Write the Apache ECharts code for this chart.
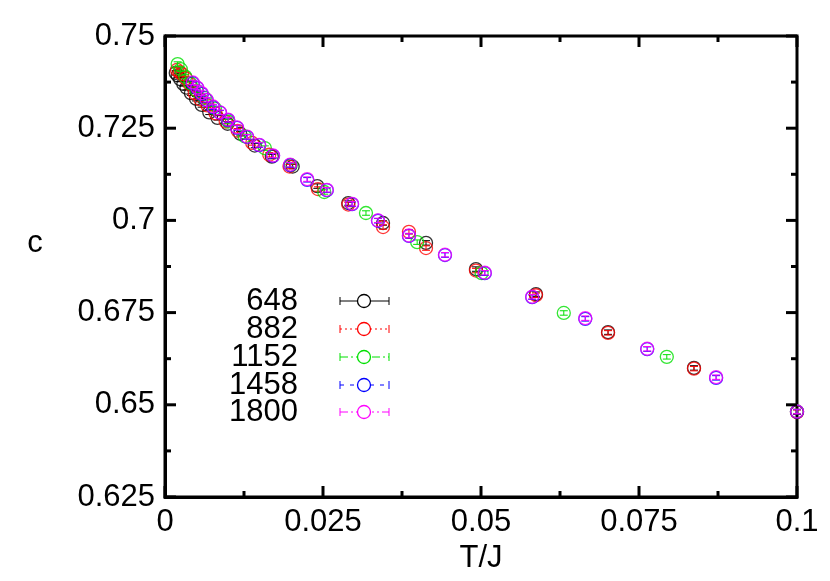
<!DOCTYPE html>
<html>
<head>
<meta charset="utf-8">
<script src="https://cdn.jsdelivr.net/npm/echarts@6/dist/echarts.min.js"></script>
<style>
html,body{margin:0;padding:0;background:#fff;}
#chart{width:830px;height:581px;}
</style>
</head>
<body>
<div id="chart"></div>
<script>
/* data */
var sizeNames = ['648', '882', '1152', '1458', '1800'];
var sizeColors = ['#000000', '#ff0000', '#00e000', '#0000ff', '#ff00ff'];
var sizeDash = [null, [2, 3], [8, 3, 2, 3], [4, 6], [8, 3, 2, 3, 2, 3]];

var t648 = [0.0017,0.0020,0.0024,0.0029,0.0034,0.0041,0.0049,0.0058,0.0070,0.0083,0.0099,0.0119,0.0142,0.0169,0.0202,0.0241,0.0290,0.0345,0.0413,0.0492,0.0587,0.0701,0.0837,0.1];
var c648 = [0.7400,0.7393,0.7383,0.7370,0.7360,0.7345,0.7330,0.7313,0.7293,0.7278,0.7262,0.7235,0.7203,0.7173,0.7146,0.7093,0.7047,0.6993,0.6939,0.6868,0.6800,0.6697,0.6600,0.6481];

var t882 = [0.0019,0.0023,0.0027,0.0033,0.0039,0.0047,0.0056,0.0067,0.0080,0.0096,0.0115,0.0138,0.0165,0.0197,0.0242,0.0290,0.0345,0.0386,0.0413,0.0492,0.0587,0.0701,0.0837,0.1];
var c882 = [0.7408,0.7402,0.7397,0.7385,0.7370,0.7345,0.7328,0.7312,0.7290,0.7268,0.7243,0.7210,0.7178,0.7146,0.7085,0.7043,0.6982,0.6969,0.6925,0.6864,0.6797,0.6695,0.6598,0.6480];

var t1152 = [0.0020,0.0025,0.0032,0.0040,0.0050,0.0063,0.0079,0.0100,0.0126,0.0158,0.0199,0.0252,0.0318,0.0399,0.0501,0.0631,0.0794,0.1];
var c1152 = [0.7424,0.7410,0.7390,0.7372,0.7352,0.7332,0.7303,0.7268,0.7228,0.7196,0.7150,0.7077,0.7020,0.6941,0.6857,0.6749,0.6630,0.6482];

var t1458 = [0.0044,0.0051,0.0058,0.0066,0.0076,0.0087,0.0100,0.0114,0.0130,0.0149,0.0171,0.0198,0.0225,0.0256,0.0296,0.0337,0.0386,0.0443,0.0506,0.0581,0.0665,0.0763,0.0872,0.1];
var c1458 = [0.7372,0.7359,0.7343,0.7326,0.7307,0.7292,0.7272,0.7251,0.7226,0.7204,0.7175,0.7150,0.7110,0.7082,0.7044,0.6999,0.6958,0.6906,0.6857,0.6792,0.6733,0.6651,0.6573,0.6481];

var t1800 = [0.0044,0.0051,0.0058,0.0066,0.0076,0.0087,0.0100,0.0114,0.0130,0.0149,0.0171,0.0198,0.0225,0.0256,0.0296,0.0337,0.0386,0.0443,0.0506,0.0581,0.0665,0.0763,0.0872,0.1];
var c1800 = [0.7374,0.7360,0.7345,0.7327,0.7309,0.7293,0.7273,0.7252,0.7227,0.7205,0.7176,0.7151,0.7112,0.7083,0.7045,0.7000,0.6959,0.6907,0.6858,0.6793,0.6735,0.6652,0.6575,0.6482];

// error bar half-height per size
var errC = [0.0006, 0.0006, 0.0006, 0.0006, 0.0006];

var xTicks = ['0', '0.025', '0.05', '0.075', '0.1'];
var yTicks = ['0.625', '0.65', '0.675', '0.7', '0.725', '0.75'];
var xMinor = [0.0125, 0.0375, 0.0625, 0.0875];
var yMinor = [0.6375, 0.6625, 0.6875, 0.7125, 0.7375];

var allT = [t648, t882, t1152, t1458, t1800];
var allC = [c648, c882, c1152, c1458, c1800];

var FONT = 'Liberation Sans';
var FS = 31;
var X_MIN = 0, X_MAX = 0.1, Y_MIN = 0.625, Y_MAX = 0.75;

function tickLabel(list, v){
    for(var i = 0; i < list.length; i++){
        if(Math.abs(parseFloat(list[i]) - v) < 1e-6) return list[i];
    }
    return '';
}

var series = [];
for(var k = 0; k < sizeNames.length; k++){
    var pts = [];
    for(var j = 0; j < allT[k].length; j++){
        pts.push([allT[k][j], allC[k][j], errC[k]]);
    }
    // error bars
    (function(col){
        series.push({
            type: 'custom',
            name: sizeNames[k] + '_err',
            data: pts,
            z: 2 + k,
            silent: true,
            renderItem: function(params, api){
                var x = api.value(0), y = api.value(1), e = api.value(2);
                var lo = api.coord([x, y - e]);
                var hi = api.coord([x, y + e]);
                var s = {stroke: col, lineWidth: 1};
                return {
                    type: 'group',
                    children: [
                        {type: 'line', shape: {x1: lo[0], y1: lo[1], x2: hi[0], y2: hi[1]}, style: s},
                        {type: 'line', shape: {x1: lo[0] - 4, y1: lo[1], x2: lo[0] + 4, y2: lo[1]}, style: s},
                        {type: 'line', shape: {x1: hi[0] - 4, y1: hi[1], x2: hi[0] + 4, y2: hi[1]}, style: s}
                    ]
                };
            }
        });
    })(sizeColors[k]);
    series.push({
        type: 'scatter',
        name: sizeNames[k],
        data: pts,
        symbol: 'circle',
        symbolSize: 13,
        z: 2 + k,
        itemStyle: {color: 'rgba(0,0,0,0)', borderColor: sizeColors[k], borderWidth: 1.3},
        emphasis: {disabled: true}
    });
}

// inward ticks on all four sides, placed through the axes' scales
var tickStyle = {stroke: '#000', lineWidth: 3};
var xTickData = [], yTickData = [];
xTicks.forEach(function(v){ xTickData.push([parseFloat(v), 11]); });
xMinor.forEach(function(v){ xTickData.push([v, 6]); });
yTicks.forEach(function(v){ yTickData.push([parseFloat(v), 11]); });
yMinor.forEach(function(v){ yTickData.push([v, 6]); });

series.push({
    type: 'custom', name: 'xticks', silent: true, z: 10,
    data: xTickData,
    encode: {x: 0},
    renderItem: function(params, api){
        var v = api.value(0), len = api.value(1);
        var b = api.coord([v, Y_MIN]), t = api.coord([v, Y_MAX]);
        return {type: 'group', children: [
            {type: 'line', shape: {x1: b[0], y1: b[1], x2: b[0], y2: b[1] - len}, style: tickStyle},
            {type: 'line', shape: {x1: t[0], y1: t[1], x2: t[0], y2: t[1] + len}, style: tickStyle}
        ]};
    }
});
series.push({
    type: 'custom', name: 'yticks', silent: true, z: 10,
    data: yTickData,
    encode: {y: 0},
    renderItem: function(params, api){
        var v = api.value(0), len = api.value(1);
        var l = api.coord([X_MIN, v]), r = api.coord([X_MAX, v]);
        return {type: 'group', children: [
            {type: 'line', shape: {x1: l[0], y1: l[1], x2: l[0] + len, y2: l[1]}, style: tickStyle},
            {type: 'line', shape: {x1: r[0], y1: r[1], x2: r[0] - len, y2: r[1]}, style: tickStyle}
        ]};
    }
});

// legend drawn as graphic: label right aligned, sample error bar with circle
var graphics = [];
var legY = [301, 329, 357, 385, 412];
for(var g = 0; g < sizeNames.length; g++){
    var col = sizeColors[g], yy = legY[g];
    var ls = {stroke: col, lineWidth: 1};
    graphics.push({type: 'text', x: 298, y: yy, style: {text: sizeNames[g], font: FS + 'px "' + FONT + '"', fill: '#000', textAlign: 'right', textVerticalAlign: 'middle'}});
    graphics.push({type: 'line', shape: {x1: 340, y1: yy, x2: 389, y2: yy}, style: {stroke: col, lineWidth: 1, lineDash: sizeDash[g]}});
    graphics.push({type: 'line', shape: {x1: 340, y1: yy - 4, x2: 340, y2: yy + 4}, style: ls});
    graphics.push({type: 'line', shape: {x1: 389, y1: yy - 4, x2: 389, y2: yy + 4}, style: ls});
    graphics.push({type: 'circle', shape: {cx: 364, cy: yy, r: 6.5}, style: {fill: '#fff', stroke: col, lineWidth: 1.3}});
}
// y axis title
graphics.push({type: 'text', x: 35, y: 243, style: {text: 'c', font: FS + 'px "' + FONT + '"', fill: '#000', textAlign: 'center', textVerticalAlign: 'middle'}});

var option = {
    animation: false,
    backgroundColor: '#fff',
    grid: {left: 165, top: 36, right: 33, bottom: 84, containLabel: false,
        show: true, borderColor: '#000', borderWidth: 3, backgroundColor: 'transparent'},
    xAxis: {
        type: 'value', min: X_MIN, max: X_MAX, interval: 0.025,
        name: 'T/J', nameLocation: 'middle', nameGap: 42,
        nameTextStyle: {fontFamily: FONT, fontSize: FS, color: '#000'},
        axisLine: {show: true, onZero: false, lineStyle: {color: '#000', width: 3}},
        axisTick: {show: false},
        splitLine: {show: false},
        axisLabel: {margin: 10, fontFamily: FONT, fontSize: FS, color: '#000',
            formatter: function(v){ return tickLabel(xTicks, v); }}
    },
    yAxis: {
        type: 'value', min: Y_MIN, max: Y_MAX, interval: 0.025,
        axisLine: {show: true, onZero: false, lineStyle: {color: '#000', width: 3}},
        axisTick: {show: false},
        splitLine: {show: false},
        axisLabel: {margin: 10, fontFamily: FONT, fontSize: FS, color: '#000',
            formatter: function(v){ return tickLabel(yTicks, v); }}
    },
    graphic: graphics,
    series: series
};

var chart = echarts.init(document.getElementById('chart'));
chart.setOption(option);
</script>
</body>
</html>
